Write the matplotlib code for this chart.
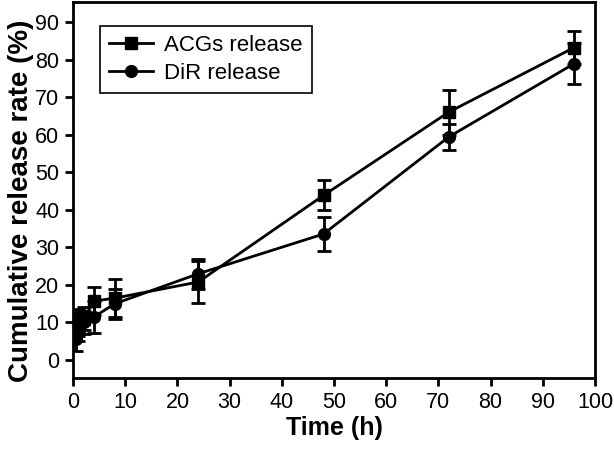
import matplotlib

matplotlib.use("Agg")
import matplotlib.pyplot as plt

plt.rcParams["font.family"] = ["Liberation Sans", "DejaVu Sans"]

# sampling times (h)
time_h = [0.5, 1, 2, 4, 8, 24, 48, 72, 96]
# cumulative release (%) and error bars
acgs_release = [10.0, 9.5, 11.0, 15.7, 16.5, 20.8, 43.9, 66.1, 83.3]
acgs_err = [3.5, 3.0, 3.0, 3.7, 5.0, 5.5, 4.0, 6.0, 4.5]
dir_release = [5.5, 8.0, 10.0, 11.5, 15.0, 23.0, 33.6, 59.5, 79.0]
dir_err = [3.0, 3.0, 3.0, 4.3, 4.0, 4.0, 4.6, 3.5, 5.4]

fig = plt.figure(figsize=(6.14, 4.5), dpi=100)
ax = fig.add_axes([0.119, 0.16, 0.850, 0.836])

err_style = dict(fmt="none", ecolor="black", capsize=5, elinewidth=2, capthick=2)
ax.errorbar(time_h, acgs_release, yerr=acgs_err, **err_style)
ax.errorbar(time_h, dir_release, yerr=dir_err, **err_style)
ax.plot(time_h, acgs_release, color="black", linewidth=2, marker="s", markersize=8.5,
        label="ACGs release")
ax.plot(time_h, dir_release, color="black", linewidth=2, marker="o", markersize=8.5,
        label="DiR release")

ax.set_xlim(0, 100)
ax.set_ylim(-4.8, 95.5)
ax.set_xticks(range(0, 101, 10))
ax.set_yticks(range(0, 91, 10))
ax.tick_params(direction="out", length=6, width=2, labelsize=15.5, color="black", pad=4)
for spine in ax.spines.values():
    spine.set_linewidth(2)

ax.set_xlabel("Time (h)", fontsize=18, fontweight="bold", labelpad=2)
ax.set_ylabel("Cumulative release rate (%)", fontsize=20, fontweight="bold", labelpad=1,
              y=0.47)

leg = ax.legend(loc="upper left", bbox_to_anchor=(0.03, 0.965), fontsize=16,
                fancybox=False, edgecolor="black", framealpha=1,
                handlelength=2.0, borderpad=0.4, labelspacing=0.3, handletextpad=0.5)
leg.get_frame().set_linewidth(1.2)

fig.savefig("out.png", dpi=100)
